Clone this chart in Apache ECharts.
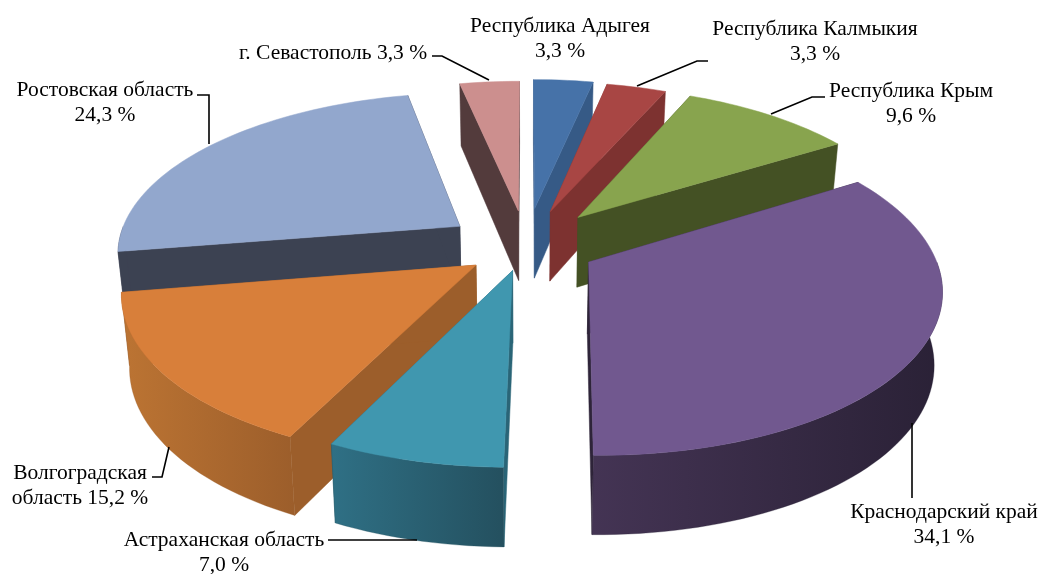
<!DOCTYPE html>
<html><head><meta charset="utf-8">
<style>html,body{margin:0;padding:0;background:#fff}#c{width:1041px;height:574px}</style>
<script src="https://cdn.jsdelivr.net/npm/echarts@6/dist/echarts.min.js"></script>
</head><body><div id="c"></div>
<script>
const categories = ['Республика Адыгея','Республика Калмыкия','Республика Крым','Краснодарский край','Астраханская область','Волгоградская область','Ростовская область','г. Севастополь'];
const shares = [3.3,3.3,9.6,34.1,7.0,15.2,24.3,3.3];
const topColors = ['#4672A8','#A84644','#88A44E','#71588F','#4097AF','#D87F3A','#92A7CD','#CC8F8E'];
const wallColors = ['#365A86','#7D3230','#445124','#2E2439','#2A6577','#9C5E2B','#3C4252','#533B3C'];
const rimColors = [['#365A86','#365A86'],['#7D3230','#7D3230'],['#445124','#445124'],['#443454','#2A2136'],['#2F7085','#24505F'],['#BC7433','#9C5E2B'],['#3C4252','#3C4252'],['#533B3C','#533B3C']];
const explodeX = [0.235,0.235,0.235,0.205,0.17,0.18,0.24,0.235];
const explodeY = [0.225,0.215,0.22,0.24,0.175,0.23,0.19,0.21];
const labelBreak = ['value','value','value','value','value','word','value','inline'];
const labelCenters = [[560,38.5],[815,42],[911,103.5],[944,525],[224,553],[80,486],[105,103],[333,53]];
const leaders = [[],[[708,61],[697,61],[637,86]],[[825,97],[812,97],[771,114]],[[912,423],[912,498]],[[328,540],[417,540]],[[152,477],[162,477],[169,447]],[[197,95],[209,95],[209,144]],[[432,56],[442,56],[489,80]]];

const CX=526.5, CY=243, RX=342, A=158, K=0.15, D=71;
const total = shares.reduce((a,b)=>a+b,0);
function project(X,Y,Z){
  const s=1/(1-K*Y), zs=1-0.02*Z;
  return [CX+RX*X*s*zs, CY+A*Y*s+D*Z*(1+0.7*K*Y)];
}
const slices=[]; let acc=0;
shares.forEach((v,i)=>{
  const a0=acc/total*Math.PI*2; acc+=v; const a1=acc/total*Math.PI*2;
  const m=(a0+a1)/2;
  slices.push({i,a0,a1,ox:Math.sin(m)*explodeX[i],oy:-Math.cos(m)*explodeY[i]});
});
function pt(sl,a,Z){return project(sl.ox+Math.sin(a),sl.oy-Math.cos(a),Z);}
function apex(sl,Z){return project(sl.ox,sl.oy,Z);}
function arcPts(sl,a0,a1,Z){const n=Math.max(2,Math.ceil((a1-a0)/0.03));const o=[];for(let j=0;j<=n;j++)o.push(pt(sl,a0+(a1-a0)*j/n,Z));return o;}
const drawOrder=slices.slice().sort((p,q)=>p.oy-q.oy).map(s=>s.i);

function renderSlice(params,api){
  const i=api.value(0), sl=slices[i], kids=[];
  const wall=pts=>({type:'polygon',shape:{points:pts},style:{fill:wallColors[i],stroke:wallColors[i],lineWidth:0.5}});
  kids.push(wall([apex(sl,0),pt(sl,sl.a0,0),pt(sl,sl.a0,1),apex(sl,1)]));
  kids.push(wall([apex(sl,0),pt(sl,sl.a1,0),pt(sl,sl.a1,1),apex(sl,1)]));
  const f0=Math.max(sl.a0,Math.PI/2), f1=Math.min(sl.a1,Math.PI*1.5);
  if(f1>f0){
    const t=arcPts(sl,f0,f1,0), b=arcPts(sl,f0,f1,1).reverse();
    kids.push({type:'polygon',shape:{points:t.concat(b)},style:{
      fill:new echarts.graphic.LinearGradient(0,0,1,0,[{offset:0,color:rimColors[i][0]},{offset:1,color:rimColors[i][1]}]),
      stroke:rimColors[i][1],lineWidth:0.3}});
  }
  const top=[apex(sl,0)].concat(arcPts(sl,sl.a0,sl.a1,0));
  kids.push({type:'polygon',shape:{points:top},style:{fill:topColors[i],stroke:topColors[i],lineWidth:0.5}});
  return {type:'group',children:kids};
}
function labelText(i){
  const pct=shares[i].toFixed(1).replace('.',',')+' %', n=categories[i];
  if(labelBreak[i]==='inline') return n+' '+pct;
  if(labelBreak[i]==='word'){const w=n.split(' ');return w[0]+'\n'+w[1]+' '+pct;}
  return n+'\n'+pct;
}
function renderLabel(params,api){
  const i=api.value(0), kids=[];
  if(leaders[i].length) kids.push({type:'polyline',shape:{points:leaders[i]},style:{fill:'none',stroke:'#000',lineWidth:1.6}});
  kids.push({type:'text',x:labelCenters[i][0],y:labelCenters[i][1],style:{text:labelText(i),fill:'#000',
    font:'21.5px "Liberation Serif"',lineHeight:25,align:'center',verticalAlign:'middle'}});
  return {type:'group',children:kids};
}
const chart=echarts.init(document.getElementById('c'),null,{renderer:'canvas'});
chart.setOption({
  animation:false,
  series:[
    {type:'custom',coordinateSystem:'none',renderItem:renderSlice,data:drawOrder.map(i=>[i]),silent:true,z:2},
    {type:'custom',coordinateSystem:'none',renderItem:renderLabel,data:categories.map((c,i)=>[i]),silent:true,z:3}
  ]
});
</script></body></html>
